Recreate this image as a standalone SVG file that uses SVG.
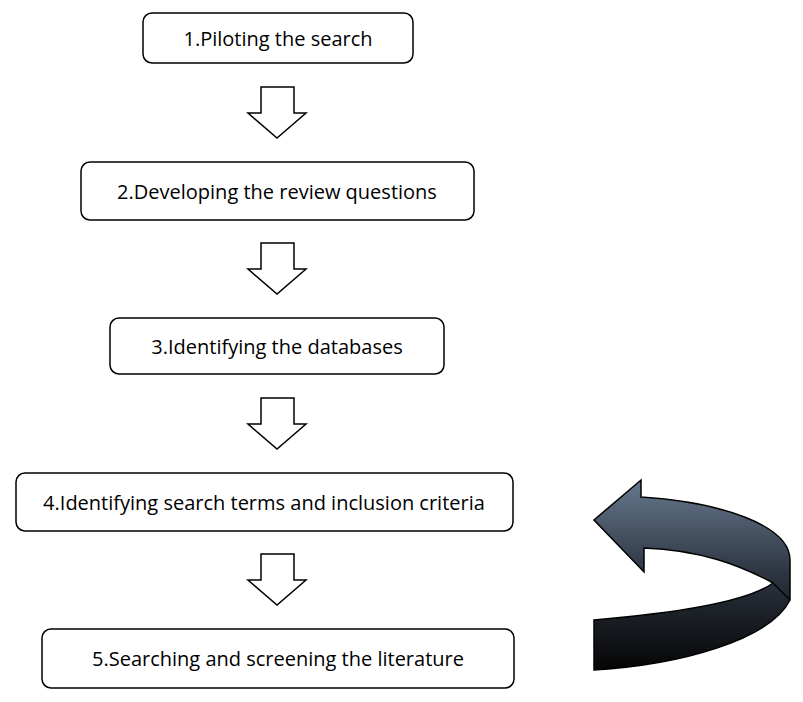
<svg xmlns="http://www.w3.org/2000/svg" width="803" height="702" viewBox="0 0 803 702">
<style>
.box{fill:#fff;stroke:#000;stroke-width:1.5}
.t{font-family:"Open Sans","Liberation Sans",sans-serif;font-size:20px;fill:#000;text-anchor:middle;dominant-baseline:central}
.arr{fill:#fff;stroke:#000;stroke-width:1.5;stroke-linejoin:miter}
</style>
<defs>
<linearGradient id="g" x1="0" y1="0" x2="0" y2="1">
<stop offset="0" stop-color="#66798e"/>
<stop offset="0.5" stop-color="#2c3440"/>
<stop offset="1" stop-color="#050505"/>
</linearGradient>
<path id="da" d="M-16,0 h33 v26 h12 l-29,25 l-29,-25 h13 z"/>
</defs>
<rect width="803" height="702" fill="#fff"/>
<g id="n1"><rect class="box" x="143" y="13" width="270" height="50" rx="9"/><text class="t" x="278" y="38">1.Piloting the search</text></g>
<g id="n2"><rect class="box" x="81" y="162" width="393" height="58" rx="9"/><text class="t" x="277" y="191">2.Developing the review questions</text></g>
<g id="n3"><rect class="box" x="110" y="318" width="334" height="56" rx="9"/><text class="t" x="277" y="346">3.Identifying the databases</text></g>
<g id="n4"><rect class="box" x="16" y="473" width="497" height="58" rx="9"/><text class="t" x="264" y="502">4.Identifying search terms and inclusion criteria</text></g>
<g id="n5"><rect class="box" x="42" y="629" width="472" height="59" rx="9"/><text class="t" x="278" y="658">5.Searching and screening the literature</text></g>
<g id="connectors">
<use href="#da" class="arr" x="277" y="87"/>
<use href="#da" class="arr" x="277" y="243"/>
<use href="#da" class="arr" x="277" y="398"/>
<use href="#da" class="arr" x="277" y="554"/>
<path d="M594,620 C690,612 750,600 773,583 C740,565 700,550 644,548 L644,572 L594,520 L641,480 L641,497 C720,502 790,525 790,560 L790,600 C770,640 680,665 594,670 Z" fill="url(#g)" stroke="#000" stroke-width="1.5"/>
<path d="M773,583 L790,600" fill="none" stroke="#000" stroke-width="1.2"/>
</g>
</svg>
